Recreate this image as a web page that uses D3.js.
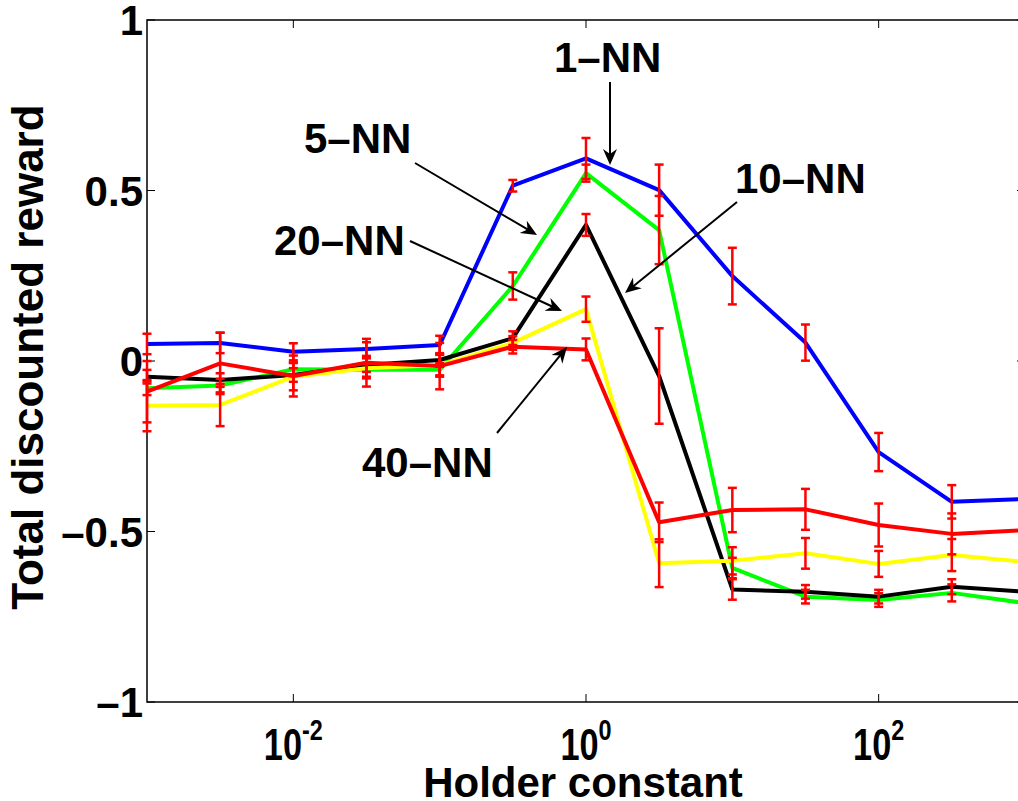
<!DOCTYPE html>
<html>
<head>
<meta charset="utf-8">
<script src="https://cdn.jsdelivr.net/npm/d3@7"></script>
<style>
  body { margin: 0; background: #fff; }
  text { font-family: "Liberation Sans", Arial, sans-serif; font-weight: bold; fill: #000; }
</style>
</head>
<body>
<div id="canvas"></div>
<script>
// holder constants (x), one column per point
const holder = [0.001, 0.00316, 0.01, 0.0316, 0.1, 0.316, 1, 3.16, 10, 31.6, 100, 316, 1000];

// mean total discounted reward per k-NN
const nn1  = [0.050, 0.053, 0.027, 0.035, 0.047, 0.514, 0.594, 0.501, 0.249, 0.054, -0.267, -0.413, -0.405];
const nn5  = [-0.080, -0.072, -0.024, -0.026, -0.026, 0.220, 0.551, 0.384, -0.607, -0.691, -0.701, -0.680, -0.710];
const nn10 = [-0.046, -0.056, -0.041, -0.012, 0.003, 0.067, 0.399, -0.044, -0.670, -0.677, -0.691, -0.662, -0.677];
const nn20 = [-0.131, -0.129, -0.046, -0.021, -0.012, 0.053, 0.152, -0.593, -0.586, -0.564, -0.595, -0.569, -0.589];
const nn40 = [-0.090, -0.007, -0.044, -0.005, -0.015, 0.042, 0.034, -0.473, -0.437, -0.435, -0.481, -0.507, -0.496];

// half length of the error bars
const err1  = [0.03, 0.03, 0.025, 0.02, 0.027, 0.017, 0.06, 0.075, 0.083, 0.053, 0.056, 0.049, 0.04];
const err5  = [0.02, 0.02, 0.02, 0.02, 0.02, 0.04, 0.025, 0.10, 0.03, 0.02, 0.02, 0.025, 0.02];
const err10 = [0.02, 0.02, 0.02, 0.02, 0.02, 0.02, 0.032, 0.14, 0.03, 0.02, 0.02, 0.022, 0.02];
const err20 = [0.075, 0.062, 0.04, 0.03, 0.03, 0.02, 0.037, 0.07, 0.04, 0.045, 0.038, 0.047, 0.04];
const err40 = [0.09, 0.09, 0.06, 0.07, 0.068, 0.02, 0.032, 0.058, 0.065, 0.06, 0.063, 0.06, 0.06];

const seriesNames = ["1–NN", "5–NN", "10–NN", "20–NN", "40–NN"];
const seriesColors = ["#0000ff", "#00ff00", "#000000", "#ffff00", "#ff0000"];

const yTicks = [-1, -0.5, 0, 0.5, 1];
const yTickLabels = ["–1", "–0.5", "0", "0.5", "1"];
const xTicks = [0.01, 1, 100];
const xTickExp = ["-2", "0", "2"];

const width = 1018;
const height = 801;
const margin = { top: 20, left: 147, bottom: 99, right: -7 };
const iwidth = width - margin.left - margin.right;
const iheight = height - margin.top - margin.bottom;

const svg = d3.select("#canvas").append("svg")
    .attr("width", width)
    .attr("height", height);

const g = svg.append("g").attr("transform", `translate(${margin.left},${margin.top})`);

const x = d3.scaleLog()
    .domain([0.001, 1000])
    .range([0, iwidth]);

const y = d3.scaleLinear()
    .domain([-1, 1])
    .range([iheight, 0]);

const series = [nn1, nn5, nn10, nn20, nn40].map((vals, i) => ({
    name: seriesNames[i],
    color: seriesColors[i],
    points: vals.map((v, j) => ({ x: holder[j], y: v, e: [err1, err5, err10, err20, err40][i][j] }))
}));

// box + inward ticks (matlab style)
g.append("rect")
    .attr("width", iwidth)
    .attr("height", iheight)
    .style("fill", "none")
    .style("stroke", "#000")
    .style("stroke-width", 1.5);

const tickLen = 8;
yTicks.forEach(t => {
    g.append("line").attr("x1", 0).attr("x2", tickLen).attr("y1", y(t)).attr("y2", y(t))
        .style("stroke", "#000").style("stroke-width", 1);
    g.append("line").attr("x1", iwidth - tickLen).attr("x2", iwidth).attr("y1", y(t)).attr("y2", y(t))
        .style("stroke", "#000").style("stroke-width", 1);
});
xTicks.forEach(t => {
    g.append("line").attr("x1", x(t)).attr("x2", x(t)).attr("y1", iheight).attr("y2", iheight - tickLen)
        .style("stroke", "#000").style("stroke-width", 1);
    g.append("line").attr("x1", x(t)).attr("x2", x(t)).attr("y1", 0).attr("y2", tickLen)
        .style("stroke", "#000").style("stroke-width", 1);
});

// tick labels
g.selectAll(".ylab").data(yTicks).enter().append("text")
    .attr("class", "ylab")
    .attr("x", -4)
    .attr("y", d => y(d) + 15)
    .attr("text-anchor", "end")
    .style("font-size", "42px")
    .text((d, i) => yTickLabels[i]);

const xl = g.selectAll(".xlab").data(xTicks).enter().append("g")
    .attr("class", "xlab")
    .attr("transform", d => `translate(${x(d)},${iheight + 58}) scale(0.78,1)`)
    .append("text")
    .attr("text-anchor", "middle")
    .style("font-size", "44px");
xl.append("tspan").text("10");
xl.append("tspan").attr("dy", -20).style("font-size", "30px").text((d, i) => xTickExp[i]);

// axis titles
svg.append("text")
    .attr("x", 583)
    .attr("y", 797)
    .attr("text-anchor", "middle")
    .style("font-size", "42px")
    .text("Holder constant");

svg.append("text")
    .attr("transform", "translate(43,357) rotate(-90)")
    .attr("text-anchor", "middle")
    .style("font-size", "44px")
    .text("Total discounted reward");

// lines
const line = d3.line().x(d => x(d.x)).y(d => y(d.y));

g.selectAll(".series").data(series).enter().append("path")
    .attr("class", "series")
    .attr("d", d => line(d.points))
    .style("fill", "none")
    .style("stroke", d => d.color)
    .style("stroke-width", 4)
    .style("stroke-linejoin", "round");

// red error bars
const cap = 4.5;
const eb = g.selectAll(".eb").data(series.flatMap(s => s.points)).enter().append("g").attr("class", "eb");
eb.append("line")
    .attr("x1", d => x(d.x)).attr("x2", d => x(d.x))
    .attr("y1", d => y(d.y - d.e)).attr("y2", d => y(d.y + d.e));
eb.append("line")
    .attr("x1", d => x(d.x) - cap).attr("x2", d => x(d.x) + cap)
    .attr("y1", d => y(d.y + d.e)).attr("y2", d => y(d.y + d.e));
eb.append("line")
    .attr("x1", d => x(d.x) - cap).attr("x2", d => x(d.x) + cap)
    .attr("y1", d => y(d.y - d.e)).attr("y2", d => y(d.y - d.e));
eb.selectAll("line").style("stroke", "#ff0000").style("stroke-width", 2.5);

// text arrows
const notes = [
    { label: "1–NN", tx: 554, ty: 72, x1: 610, y1: 82, x2: 610, y2: 165 },
    { label: "5–NN", tx: 304, ty: 153, x1: 415, y1: 163, x2: 537, y2: 235 },
    { label: "20–NN", tx: 274, ty: 255, x1: 410, y1: 241, x2: 562, y2: 311 },
    { label: "10–NN", tx: 735, ty: 193, x1: 737, y1: 202, x2: 625, y2: 293 },
    { label: "40–NN", tx: 362, ty: 477, x1: 497, y1: 433, x2: 567, y2: 347 }
];

const ann = svg.append("g");
notes.forEach(n => {
    ann.append("text")
        .attr("x", n.tx)
        .attr("y", n.ty)
        .style("font-size", "42px")
        .text(n.label);
    const ang = Math.atan2(n.y2 - n.y1, n.x2 - n.x1) * 180 / Math.PI;
    const len = Math.hypot(n.x2 - n.x1, n.y2 - n.y1);
    const a = ann.append("g").attr("transform", `translate(${n.x1},${n.y1}) rotate(${ang})`);
    a.append("line")
        .attr("x1", 0).attr("y1", 0).attr("x2", len - 6).attr("y2", 0)
        .style("stroke", "#000").style("stroke-width", 2);
    a.append("path")
        .attr("d", `M${len},0 L${len - 16},-7 L${len - 11},0 L${len - 16},7 Z`)
        .style("fill", "#000");
});
</script>
</body>
</html>
